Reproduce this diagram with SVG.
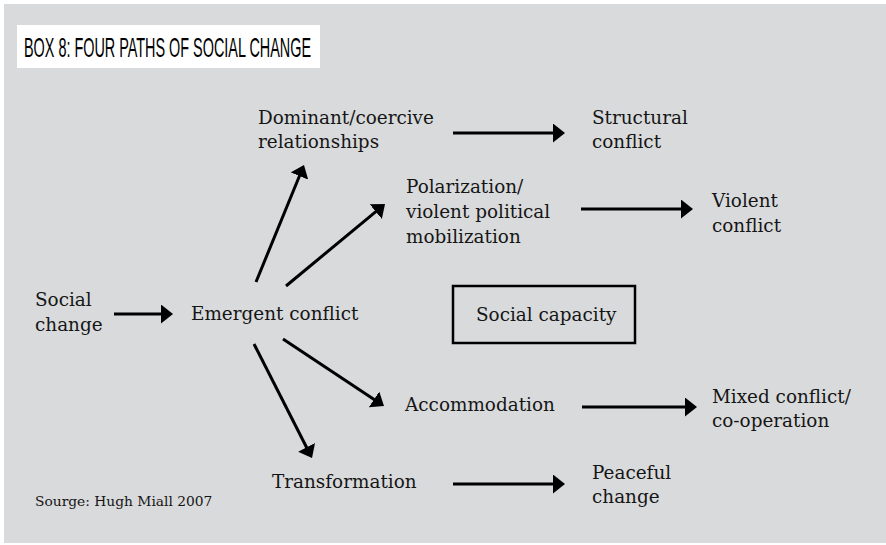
<svg xmlns="http://www.w3.org/2000/svg" width="886" height="545" viewBox="0 0 886 545">
<style>
.t{font-family:"DejaVu Serif","Liberation Serif",serif;font-size:18.4px;fill:#151515}
.s{font-family:"DejaVu Serif","Liberation Serif",serif;font-size:13.8px;fill:#151515}
.ttl{font-family:"Liberation Sans",Arial,sans-serif;font-size:28px;fill:#000}
.c line{stroke:#000;stroke-width:3;marker-end:url(#ah)}
</style>
<defs>
<marker id="ah" viewBox="0 0 12 19" refX="6" refY="9.5" markerWidth="12" markerHeight="19" markerUnits="userSpaceOnUse" orient="auto">
<path d="M0,0 L12,9.5 L0,19 Z" fill="#000"/>
</marker>
</defs>
<rect x="0" y="0" width="886" height="545" fill="#fff"/>
<rect x="4" y="4" width="882" height="539" fill="#d9dadc"/>
<g id="title">
<rect x="17" y="25" width="303" height="43" fill="#fff"/>
<text class="ttl" x="24" y="57" textLength="287" lengthAdjust="spacingAndGlyphs">BOX 8: FOUR PATHS OF SOCIAL CHANGE</text>
</g>
<g id="social-change"><text class="t" x="35" y="306">Social</text><text class="t" x="35" y="331">change</text></g>
<g id="emergent"><text class="t" x="191" y="320">Emergent conflict</text></g>
<g id="dominant"><text class="t" x="258" y="124">Dominant/coercive</text><text class="t" x="258" y="148">relationships</text></g>
<g id="structural"><text class="t" x="592" y="124">Structural</text><text class="t" x="592" y="148">conflict</text></g>
<g id="polarization"><text class="t" x="406" y="193">Polarization/</text><text class="t" x="406" y="218">violent political</text><text class="t" x="406" y="243">mobilization</text></g>
<g id="violent"><text class="t" x="712" y="207">Violent</text><text class="t" x="712" y="232">conflict</text></g>
<g id="capacity"><rect x="453" y="286" width="182" height="57" fill="none" stroke="#000" stroke-width="2.5"/><text class="t" x="476" y="321">Social capacity</text></g>
<g id="accommodation"><text class="t" x="405" y="411">Accommodation</text></g>
<g id="mixed"><text class="t" x="712" y="403">Mixed conflict/</text><text class="t" x="712" y="427">co-operation</text></g>
<g id="transformation"><text class="t" x="272" y="488">Transformation</text></g>
<g id="peaceful"><text class="t" x="592" y="479">Peaceful</text><text class="t" x="592" y="503">change</text></g>
<g id="source"><text class="s" x="35" y="506">Sourge: Hugh Miall 2007</text></g>
<g id="connectors" class="c">
<line x1="114" y1="314" x2="167" y2="314"/>
<line x1="453" y1="133" x2="559" y2="133"/>
<line x1="581" y1="209" x2="687" y2="209"/>
<line x1="582" y1="407" x2="691" y2="407"/>
<line x1="453" y1="484" x2="559" y2="484"/>
<line x1="256" y1="282" x2="301.7" y2="170.5"/>
<line x1="286" y1="286" x2="380.4" y2="207.8"/>
<line x1="283" y1="339" x2="379" y2="402.7"/>
<line x1="254" y1="344" x2="309.3" y2="452.7"/>
</g>
</svg>
